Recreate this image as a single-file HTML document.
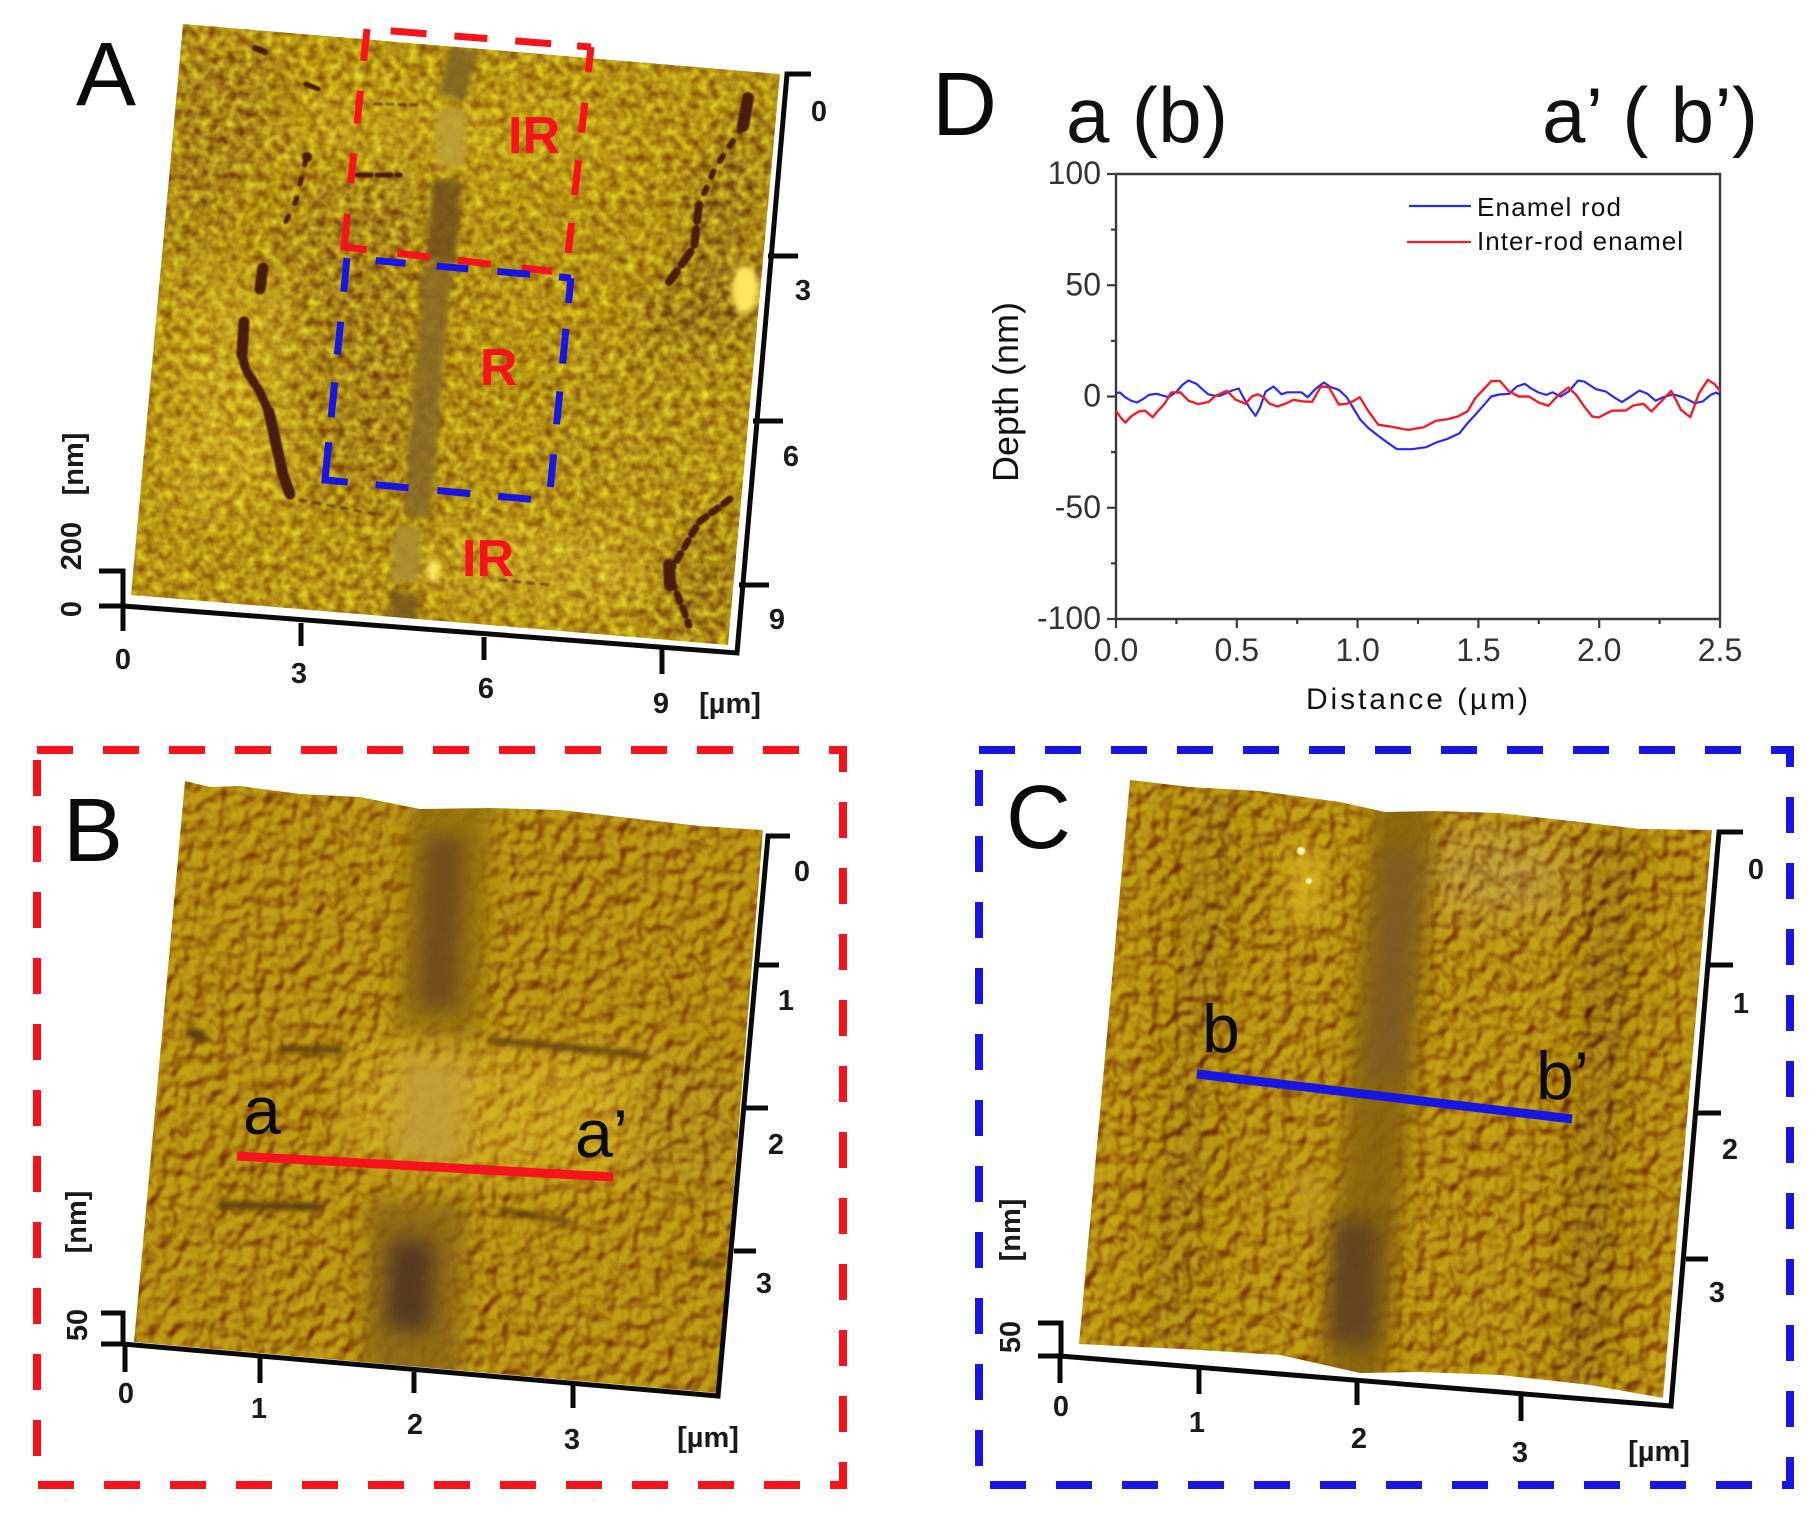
<!DOCTYPE html>
<html lang="en">
<head>
<meta charset="utf-8">
<title>AFM enamel figure</title>
<style>
html,body{margin:0;padding:0;background:#fff;width:1818px;height:1516px;overflow:hidden}
svg{display:block}
text{font-family:"Liberation Sans",sans-serif;fill:#111}
.tl{font-weight:bold;font-size:29px;text-anchor:middle;fill:#1a1a1a}
.big{font-size:90px;fill:#0a0a0a}
.ax{stroke:#0a0a0a;stroke-width:5;fill:none}
.lab{font-size:52px;font-weight:bold;fill:#f5141c}
.line-label{font-size:68px;fill:#0a0a0a}
.dt{font-size:32px;fill:#333}
</style>
</head>
<body>
<svg id="figure" xmlns="http://www.w3.org/2000/svg" width="1818" height="1516" viewBox="0 0 1818 1516">
<defs>
<filter id="noiseA" x="0" y="0" width="1" height="1" color-interpolation-filters="sRGB">
  <feTurbulence type="fractalNoise" baseFrequency="0.11" numOctaves="2" seed="7"/>
  <feColorMatrix type="matrix" values="0.9 0 0 0 0.07  0.9 0 0 0 0.07  0.9 0 0 0 0.07  0 0 0 0 1"/>
  <feGaussianBlur stdDeviation="0.9"/>
</filter>
<filter id="bumpB" x="0" y="0" width="1" height="1" color-interpolation-filters="sRGB">
  <feTurbulence type="fractalNoise" baseFrequency="0.085 0.07" numOctaves="2" seed="11"/>
  <feGaussianBlur stdDeviation="1.6"/>
  <feDiffuseLighting surfaceScale="7" diffuseConstant="0.62" lighting-color="#ffffff"><feDistantLight azimuth="235" elevation="58"/></feDiffuseLighting>
  <feGaussianBlur stdDeviation="0.8"/>
</filter>
<filter id="bumpC" x="0" y="0" width="1" height="1" color-interpolation-filters="sRGB">
  <feTurbulence type="fractalNoise" baseFrequency="0.09 0.075" numOctaves="2" seed="23"/>
  <feGaussianBlur stdDeviation="1.6"/>
  <feDiffuseLighting surfaceScale="7" diffuseConstant="0.62" lighting-color="#ffffff"><feDistantLight azimuth="235" elevation="58"/></feDiffuseLighting>
  <feGaussianBlur stdDeviation="0.8"/>
</filter>
<filter id="b3" filterUnits="userSpaceOnUse" x="0" y="0" width="1818" height="1516"><feGaussianBlur stdDeviation="3"/></filter>
<filter id="b10" filterUnits="userSpaceOnUse" x="0" y="0" width="1818" height="1516"><feGaussianBlur stdDeviation="10"/></filter>
<filter id="b22" filterUnits="userSpaceOnUse" x="0" y="0" width="1818" height="1516"><feGaussianBlur stdDeviation="22"/></filter>
<filter id="b1" filterUnits="userSpaceOnUse" x="0" y="0" width="1818" height="1516"><feGaussianBlur stdDeviation="0.7"/></filter>
<clipPath id="clipA"><polygon points="183,24 780,74 728,645 131,595"/></clipPath>
<clipPath id="clipB"><polygon points="185,781 210,787 240,786 300,794 360,797 420,809 490,808 560,810 630,818 700,826 763,830 717,1393 134,1342"/></clipPath>
<clipPath id="clipC"><polygon points="1130,780 1190,787 1260,791 1340,802 1385,812 1435,811 1500,813 1580,822 1640,829 1712,830 1663,1398 1590,1385 1500,1375 1420,1372 1360,1373 1280,1355 1200,1350 1079,1344"/></clipPath>
</defs>

<!-- Panel A -->
<g id="panel-a">
  <g clip-path="url(#clipA)" style="isolation:isolate">
    <rect x="100" y="0" width="720" height="680" fill="#b28e14"/>
    <g filter="url(#b22)">
      <polygon points="300,180 350,170 430,180 410,510 295,490 250,350" fill="#a47f12"/>
      <polygon points="170,40 290,50 260,170 170,270" fill="#a47e14"/>
      <polygon points="640,290 760,290 750,340 650,345" fill="#936e14"/>
      <polygon points="690,170 770,100 750,290 680,270" fill="#9e7914"/>
      <polygon points="690,540 740,500 720,640 660,630" fill="#9c7814"/>
      <polygon points="195,280 290,280 300,500 170,510" fill="#c19e1e"/>
      <polygon points="305,70 470,100 620,110 600,180 420,165 300,150" fill="#bd9a18"/>
      <polygon points="450,530 640,540 650,600 460,590" fill="#c4a022"/>
      <polygon points="560,330 740,350 720,500 540,500" fill="#b18e16"/>
    </g>
    <rect x="100" y="0" width="720" height="680" filter="url(#noiseA)" style="mix-blend-mode:overlay"/>
    <g filter="url(#b3)" opacity="0.85">
      <line x1="464" y1="49" x2="452" y2="98" stroke="#7d6222" stroke-width="28"/>
      <line x1="451" y1="108" x2="450" y2="166" stroke="#bda038" stroke-width="28"/>
      <line x1="447" y1="180" x2="441" y2="262" stroke="#6f501c" stroke-width="30"/>
      <line x1="438" y1="265" x2="417" y2="517" stroke="#866828" stroke-width="28"/>
      <line x1="408" y1="527" x2="405" y2="582" stroke="#a88c34" stroke-width="26"/>
      <line x1="404" y1="592" x2="402" y2="640" stroke="#76581f" stroke-width="28"/>
    </g>
    <g fill="none" stroke="#4a1e08" stroke-linecap="round" stroke-linejoin="round" filter="url(#b1)">
      <polyline points="306,159 296,201 280,233" stroke-width="5" stroke-dasharray="6 14"/>
      <circle cx="307" cy="157" r="5" fill="#4a1e08" stroke="none"/>
      <polyline points="263,268 260,289" stroke-width="11"/>
      <polyline points="244,322 242,355" stroke-width="11"/>
      <polyline points="242,355 246,370 260,392 269,412" stroke-width="9" stroke-dasharray="14 4"/>
      <polyline points="269,412 275,439 283,475 290,494" stroke-width="11"/>
      <polyline points="748,98 743,126" stroke-width="12"/>
      <polyline points="743,126 715,168 699,205" stroke-width="6" stroke-dasharray="6 12"/>
      <polyline points="699,205 694,247 669,282" stroke-width="8" stroke-dasharray="16 8"/>
      <polyline points="730,499 699,522 669,574 684,611 689,625" stroke-width="7" stroke-dasharray="8 7"/>
      <polyline points="669,565 670,585" stroke-width="12"/>
      <polyline points="357,175 400,175" stroke-width="5" stroke-dasharray="14 6"/>
      <polyline points="306,84 318,89" stroke-width="5"/>
      <polyline points="255,48 265,52" stroke-width="6"/>
      <polyline points="300,500 380,515" stroke-width="3" stroke-dasharray="6 8" stroke-opacity="0.6"/>
      <polyline points="500,580 550,585" stroke-width="3" stroke-dasharray="6 8" stroke-opacity="0.6"/>
      <polyline points="375,104 420,105" stroke-width="3" stroke-dasharray="6 6" stroke-opacity="0.6"/>
    </g>
    <g filter="url(#b3)">
      <ellipse cx="745" cy="289" rx="13" ry="24" fill="#ffe860"/>
      <ellipse cx="433" cy="571" rx="6" ry="12" fill="#ffe860"/>
    </g>
  </g>
  <g class="ax">
    <polyline points="811,74 787,74 737,653 123,606"/>
    <line x1="768" y1="256" x2="798" y2="256"/>
    <line x1="753" y1="421" x2="783" y2="421"/>
    <line x1="739" y1="585" x2="769" y2="585"/>
    <line x1="123" y1="606" x2="123" y2="631"/>
    <line x1="301" y1="623" x2="301" y2="646"/>
    <line x1="484" y1="637" x2="484" y2="660"/>
    <line x1="662" y1="649" x2="662" y2="674"/>
    <polyline points="99,571 123,571 123,606 99,606"/>
  </g>
  <g>
    <text class="tl" x="123" y="669">0</text><text class="tl" x="299" y="683">3</text><text class="tl" x="486" y="698">6</text><text class="tl" x="661" y="713">9</text><text class="tl" x="730" y="713">[µm]</text>
    <text class="tl" x="819" y="121">0</text><text class="tl" x="803" y="300">3</text><text class="tl" x="791" y="466">6</text><text class="tl" x="777" y="629">9</text>
    <text class="tl" transform="rotate(-90 71 609)" x="71" y="619">0</text><text class="tl" transform="rotate(-90 71 546)" x="71" y="556">200</text><text class="tl" transform="rotate(-90 73 464)" x="73" y="474">[nm]</text>
  </g>
  <text class="big" x="76" y="105">A</text>
  <g fill="none" stroke="#f5141c" stroke-width="7">
    <path d="M367,29 L344,247 L566,273" stroke-dasharray="32 30 33 30 30 31 56 31 33 28 33 31 31 999"/>
    <path d="M591,47 L566,273" stroke-dasharray="25 31 30 28 35 28 30 999"/>
    <path d="M591,47 L367,29" stroke-dasharray="14 26 36 28 33 28 36 999"/>
  </g>
  <g fill="none" stroke="#1616e0" stroke-width="7">
    <path d="M347,258 L325,480 L549,501" stroke-dasharray="34 30 33 28 35 25 61 28 33 29 33 28 33 999"/>
    <path d="M571,278 L549,501" stroke-dasharray="25 26 35 28 33 30 33 999"/>
    <path d="M571,278 L347,258" stroke-dasharray="12 29 33 29 32 31 30 999"/>
  </g>
  <text class="lab" x="508" y="153">IR</text>
  <text class="lab" x="480" y="385">R</text>
  <text class="lab" x="462" y="576">IR</text>
</g>

<!-- Panel B -->
<g id="panel-b">
  <path d="M37,750 H843 V1485 H37 Z" fill="none" stroke="#f5141c" stroke-width="8" stroke-dasharray="36 30"/>
  <g clip-path="url(#clipB)" style="isolation:isolate">
    <rect x="100" y="760" width="700" height="660" fill="#b08610"/>
    <g filter="url(#b22)">
      <polygon points="351,1045 640,1055 625,1180 345,1165" fill="#c69e1c"/>
      <polygon points="650,1060 750,1060 730,1200 640,1190" fill="#aa8412"/>
    </g>
    <rect x="100" y="760" width="700" height="660" filter="url(#bumpB)" style="mix-blend-mode:overlay"/>
    <g filter="url(#b3)" fill="none" stroke="#5c3c08" stroke-linecap="round">
      <line x1="281" y1="1049" x2="340" y2="1050" stroke-width="7"/>
      <line x1="490" y1="1040" x2="644" y2="1055" stroke-width="6"/>
      <line x1="221" y1="1205" x2="320" y2="1207" stroke-width="8"/>
      <line x1="192" y1="1033" x2="200" y2="1036" stroke-width="12"/>
      <line x1="500" y1="1210" x2="570" y2="1222" stroke-width="5"/>
      <line x1="690" y1="1262" x2="720" y2="1265" stroke-width="5"/>
    </g>
    <g filter="url(#b10)" opacity="0.85">
      <line x1="452" y1="790" x2="438" y2="1036" stroke="#94720f" stroke-width="84"/>
      <line x1="434" y1="1058" x2="428" y2="1165" stroke="#c2a038" stroke-width="70"/>
      <line x1="418" y1="1200" x2="410" y2="1400" stroke="#8a6612" stroke-width="96"/>
    </g>
    <g filter="url(#b10)" opacity="0.9">
      <line x1="445" y1="835" x2="437" y2="1010" stroke="#6c4a1c" stroke-width="42"/>
      <line x1="412" y1="1240" x2="408" y2="1330" stroke="#4e3020" stroke-width="44"/>
    </g>
  </g>
  <g class="ax">
    <polyline points="790,836 768,836 718,1396 123,1344"/>
    <line x1="756" y1="965" x2="779" y2="965"/>
    <line x1="742" y1="1108" x2="768" y2="1108"/>
    <line x1="734" y1="1251" x2="756" y2="1251"/>
    <line x1="125" y1="1346" x2="125" y2="1372"/>
    <line x1="260" y1="1358" x2="260" y2="1383"/>
    <line x1="414" y1="1372" x2="414" y2="1393"/>
    <line x1="573" y1="1383" x2="573" y2="1408"/>
    <polyline points="101,1313 123,1313 123,1344 101,1344"/>
  </g>
  <g>
    <text class="tl" x="126" y="1403">0</text><text class="tl" x="259" y="1418">1</text><text class="tl" x="415" y="1434">2</text><text class="tl" x="572" y="1449">3</text><text class="tl" x="708" y="1447">[µm]</text>
    <text class="tl" x="802" y="881">0</text><text class="tl" x="786" y="1010">1</text><text class="tl" x="776" y="1154">2</text><text class="tl" x="764" y="1293">3</text>
    <text class="tl" transform="rotate(-90 77 1325)" x="77" y="1335">50</text><text class="tl" transform="rotate(-90 76 1222)" x="76" y="1232">[nm]</text>
  </g>
  <text class="big" x="63" y="861">B</text>
  <line x1="237" y1="1156" x2="613" y2="1177" stroke="#f5141c" stroke-width="9"/>
  <text class="line-label" x="243" y="1134">a</text>
  <text class="line-label" x="575" y="1157">a’</text>
</g>

<!-- Panel C -->
<g id="panel-c">
  <path d="M979,750 H1790 V1485 H979 Z" fill="none" stroke="#1616e0" stroke-width="8" stroke-dasharray="36 30"/>
  <g clip-path="url(#clipC)" style="isolation:isolate">
    <rect x="1050" y="760" width="700" height="660" fill="#b28810"/>
    <g filter="url(#b22)">
      <polygon points="1431,830 1563,835 1560,916 1431,910" fill="#b39030"/>
      <line x1="1215" y1="790" x2="1170" y2="1350" stroke="#9e780e" stroke-width="44"/>
      <line x1="1615" y1="830" x2="1580" y2="1390" stroke="#926c10" stroke-width="40"/>
    </g>
    <rect x="1050" y="760" width="700" height="660" filter="url(#bumpC)" style="mix-blend-mode:overlay"/>
    <g filter="url(#b10)" opacity="0.88">
      <line x1="1406" y1="795" x2="1354" y2="1385" stroke="#86620f" stroke-width="64"/>
      <line x1="1308" y1="850" x2="1305" y2="920" stroke="#d8b420" stroke-width="30"/>
      <line x1="1305" y1="1170" x2="1310" y2="1230" stroke="#c4a020" stroke-width="22"/>
    </g>
    <g filter="url(#b10)" opacity="0.85">
      <line x1="1356" y1="1220" x2="1352" y2="1345" stroke="#5c3e20" stroke-width="48"/>
      <line x1="1403" y1="850" x2="1385" y2="1080" stroke="#7a5a28" stroke-width="36"/>
    </g>
    <g filter="url(#b1)">
      <circle cx="1301" cy="851" r="4" fill="#fff8c0"/>
      <circle cx="1309" cy="881" r="3" fill="#fff8c0"/>
    </g>
  </g>
  <g class="ax">
    <polyline points="1743,832 1719,832 1671,1406 1060,1356"/>
    <line x1="1710" y1="965" x2="1733" y2="965"/>
    <line x1="1697" y1="1113" x2="1721" y2="1113"/>
    <line x1="1686" y1="1259" x2="1708" y2="1259"/>
    <line x1="1060" y1="1356" x2="1060" y2="1383"/>
    <line x1="1199" y1="1367" x2="1199" y2="1394"/>
    <line x1="1357" y1="1381" x2="1357" y2="1405"/>
    <line x1="1521" y1="1394" x2="1521" y2="1421"/>
    <polyline points="1038,1323 1061,1323 1061,1356 1038,1356"/>
  </g>
  <g>
    <text class="tl" x="1061" y="1416">0</text><text class="tl" x="1197" y="1432">1</text><text class="tl" x="1359" y="1448">2</text><text class="tl" x="1520" y="1462">3</text><text class="tl" x="1659" y="1461">[µm]</text>
    <text class="tl" x="1756" y="879">0</text><text class="tl" x="1741" y="1013">1</text><text class="tl" x="1730" y="1159">2</text><text class="tl" x="1717" y="1302">3</text>
    <text class="tl" transform="rotate(-90 1010 1337)" x="1010" y="1347">50</text><text class="tl" transform="rotate(-90 1010 1230)" x="1010" y="1240">[nm]</text>
  </g>
  <text class="big" x="1006" y="848">C</text>
  <line x1="1197" y1="1074" x2="1572" y2="1119" stroke="#1616e0" stroke-width="9"/>
  <text class="line-label" x="1202" y="1052">b</text>
  <text class="line-label" x="1536" y="1099">b’</text>
</g>

<!-- Panel D chart -->
<g id="panel-d">
  <text class="big" x="932" y="135">D</text>
  <text x="1066" y="142" font-size="78" textLength="162" fill="#0a0a0a">a (b)</text>
  <text x="1542" y="142" font-size="78" textLength="216" fill="#0a0a0a">a’ ( b’)</text>
  <g id="chart-d"></g>
</g>
</svg>

<script>
var xTickValues = [0, 0.25, 0.5, 0.75, 1, 1.25, 1.5, 1.75, 2, 2.25, 2.5];
var xTickLabels = ["0.0", "", "0.5", "", "1.0", "", "1.5", "", "2.0", "", "2.5"];
var yTickValues = [100, 75, 50, 25, 0, -25, -50, -75, -100];
var yTickLabels = ["100", "", "50", "", "0", "", "-50", "", "-100"];
var rodDistance = [0,.016,.038,.062,.087,.111,.136,.169,.193,.218,.251,.275,.3,.333,.36,.382,.406,.431,.455,.48,.508,.529,.554,.578,.595,.619,.652,.685,.709,.767,.794,.824,.86,.889,.922,.955,.988,1.012,1.045,1.086,1.127,1.163,1.225,1.283,1.324,1.373,1.422,1.455,1.487,1.52,1.553,1.586,1.627,1.659,1.692,1.717,1.749,1.782,1.807,1.84,1.873,1.913,1.938,1.987,2.028,2.061,2.094,2.126,2.167,2.2,2.233,2.265,2.306,2.347,2.396,2.429,2.462,2.483,2.5];
var rodDepth = [1.5,1.8,-.3,-1.9,-2.7,-1.2,.7,1.2,.4,-.3,2.2,5.2,7.2,5.7,3,1,.4,.3,1.5,2.7,3.6,-.7,-5.2,-8.7,-5.2,2.2,4.5,1,1.9,1.9,-.3,3.3,6.3,4.2,3,-.3,-6.3,-10.5,-14.2,-17.7,-21,-23.7,-23.7,-22.8,-20.7,-19,-16.5,-12,-8.2,-4.2,0,.9,1.2,4.5,5.7,3.7,1.8,.7,1.9,0,2.2,7.2,6.7,3.3,2.2,-.3,-2.5,-.3,2.7,1.2,-1.9,-.3,1,-.3,-3,-2.2,.7,1.8,.7];
var interRodDistance = [0,.021,.039,.062,.095,.12,.152,.177,.201,.229,.267,.3,.341,.382,.414,.459,.496,.537,.562,.586,.611,.636,.668,.701,.734,.775,.812,.848,.881,.922,.955,.98,1.009,1.045,1.086,1.135,1.209,1.274,1.324,1.373,1.414,1.455,1.487,1.52,1.553,1.589,1.627,1.668,1.709,1.749,1.79,1.831,1.873,1.905,1.938,1.971,1.998,2.052,2.11,2.142,2.183,2.216,2.257,2.298,2.339,2.377,2.413,2.45,2.478,2.5];
var interRodDepth = [-6.4,-9.7,-11.7,-9,-6.7,-6.4,-9.3,-6,-3.3,1.8,1.8,-1.9,-3.4,-2.5,.4,2.5,-1.5,-3.3,0,1,-.3,-3.3,-4.5,-3.3,-1.5,-2.2,-2.4,4.5,4.2,-3.6,-3.3,-2.2,-.3,-6.7,-12.7,-13.5,-15,-13.8,-10.9,-10.2,-9,-6.7,-.7,3,6.9,7,2.2,0,0,-2.7,-4.2,.7,4,.7,-4.5,-9,-9.4,-6.4,-6.3,-4,-3.3,-6.7,-2.2,2.5,-6,-9.3,1.5,7.5,5.5,2.5];
var seriesNames = ["Enamel rod", "Inter-rod enamel"];

var NS = "http://www.w3.org/2000/svg";
var chart = document.getElementById("chart-d");
var plotLeft = 1116, plotRight = 1720, plotTop = 174, plotBottom = 619;
function xAxis(v) { return plotLeft + (v - 0) / 2.5 * (plotRight - plotLeft); }
function yAxis(v) { return plotBottom - (v + 100) / 200 * (plotBottom - plotTop); }
function make(tag, attrs, text) {
  var el = document.createElementNS(NS, tag);
  for (var k in attrs) el.setAttribute(k, attrs[k]);
  if (text !== undefined) el.textContent = text;
  chart.appendChild(el);
  return el;
}
var frame = make("path", { d: "M" + plotLeft + "," + plotBottom + " V" + plotTop + " H" + plotRight + " V" + plotBottom + " H" + plotLeft, fill: "none", stroke: "#3a3a3a", "stroke-width": 2.4 });


yTickValues.forEach(function (v, i) {
  var major = yTickLabels[i] !== "";
  var t = make("line", { x1: plotLeft - (major ? 9 : 5), x2: plotLeft, y1: yAxis(v), y2: yAxis(v), stroke: "#3a3a3a", "stroke-width": 2.2 });
  
  
  if (major) {
    var l = make("text", { x: plotLeft - 15, y: yAxis(v) + 10, "text-anchor": "end", class: "dt" }, yTickLabels[i]);
    
    
  }
});
xTickValues.forEach(function (v, i) {
  var major = xTickLabels[i] !== "";
  var t = make("line", { x1: xAxis(v), x2: xAxis(v), y1: plotBottom, y2: plotBottom + (major ? 9 : 5), stroke: "#3a3a3a", "stroke-width": 2.2 });
  
  
  if (major) {
    var l = make("text", { x: xAxis(v), y: plotBottom + 42, "text-anchor": "middle", class: "dt" }, xTickLabels[i]);
    
    
  }
});
function pathFrom(xs, ys) {
  return xs.map(function (x, i) { return (i ? "L" : "M") + xAxis(x).toFixed(1) + "," + yAxis(ys[i]).toFixed(1); }).join(" ");
}
var rodLine = make("path", { d: pathFrom(rodDistance, rodDepth), fill: "none", stroke: "#2a2af5", "stroke-width": 2.2, "stroke-linejoin": "round" });


var interLine = make("path", { d: pathFrom(interRodDistance, interRodDepth), fill: "none", stroke: "#f01e28", "stroke-width": 2.4, "stroke-linejoin": "round" });


var k1 = make("line", { x1: 1409, x2: 1471, y1: 206, y2: 206, stroke: "#2a2af5", "stroke-width": 2.2 });


var k2 = make("line", { x1: 1407, x2: 1471, y1: 242, y2: 242, stroke: "#f01e28", "stroke-width": 2.2 });


var t1 = make("text", { x: 1477, y: 216, "font-size": 26, fill: "#444", textLength: 144 }, seriesNames[0]);


var t2 = make("text", { x: 1477, y: 250, "font-size": 26, fill: "#444", textLength: 206 }, seriesNames[1]);


var xTitle = make("text", { x: 1306, y: 709, "font-size": 30, fill: "#333", textLength: 222 }, "Distance (µm)");


var yTitle = make("text", { x: 0, y: 0, "font-size": 36, fill: "#333", "text-anchor": "middle", transform: "translate(1018,392) rotate(-90)" }, "Depth (nm)");


</script>
</body>
</html>
